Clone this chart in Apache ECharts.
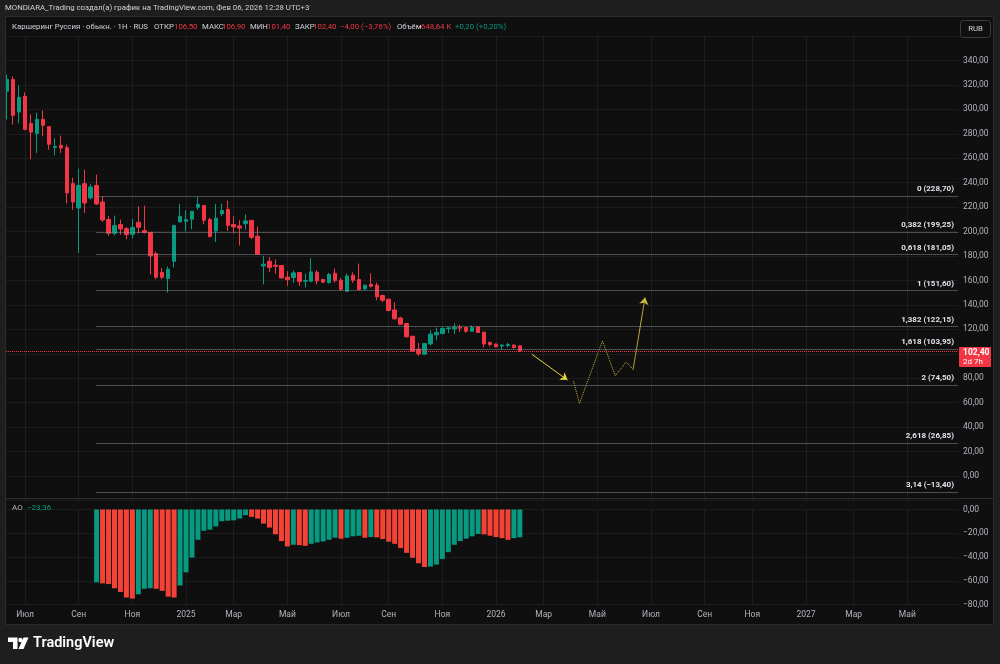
<!DOCTYPE html>
<html><head><meta charset="utf-8">
<script src="https://cdn.jsdelivr.net/npm/echarts@6/dist/echarts.min.js"></script>
<style>html,body{margin:0;padding:0;background:#1e1e1e;}#c{width:1000px;height:664px;}</style>
</head><body><div id="c"></div>
<script>
// ---------------- data ----------------
const candleStart = '2024-06-10'; // weekly candles, Monday dates
const opens  = [314.9,324.5,297.8,310.6,288.5,280.3,291.8,285.8,268.9,270.5,268.6,239.2,219.3,239.2,227.5,237.8,224.2,209.8,198.6,205.7,202.4,197.8,207.6,200.8,199.4,182.0,166.7,161.6,175.7,207.9,208.4,210.1,219.9,221.3,209.8,200.5,214.5,218.2,205.7,204.6,206.5,209.2,196.2,171.9,175.7,172.5,172.2,162.6,162.4,166.5,159.4,159.4,166.7,160.8,158.3,165.9,160.2,151.2,164.3,160.8,153.1,156.9,156.1,147.7,144.7,135.9,129.4,124.8,114.4,103.8,99.7,108.1,115.5,116.6,120.7,120.4,121.8,121.5,118.5,122.0,117.7,109.3,107.9,106.3,106.8,107.1,106.5];
const closes = [324.5,295.1,309.8,283.6,281.4,291.8,286.9,271.4,269.6,268.4,231.6,224.2,237.8,223.4,236.5,222.6,209.5,198.6,204.9,202.2,197.5,203.3,203.5,199.2,180.1,162.6,162.6,169.2,204.9,212.5,209.8,216.6,222.3,209.3,195.9,210.9,217.2,205.1,203.8,202.9,208.7,195.3,181.4,173.3,170.7,171.6,162.1,160.7,166.2,159.1,160.0,167.0,159.6,158.6,164.9,159.9,152.8,163.7,160.2,152.6,156.1,155.3,146.6,143.8,135.4,128.6,124.2,113.9,102.2,100.0,108.5,116.1,117.4,120.7,121.2,121.8,121.0,118.5,121.5,117.4,108.1,107.6,105.7,107.1,107.6,105.2,102.4];
const lows   = [291.8,287.4,288.5,282.8,259.3,264.3,277.9,267.0,262.4,264.3,222.9,217.7,182.5,215.2,226.2,221.8,207.9,196.4,196.7,197.5,193.7,194.3,198.6,198.4,164.9,161.0,161.0,150.1,170.6,207.9,200.2,201.9,217.7,206.0,195.3,191.5,212.8,200.5,198.6,188.6,201.6,193.9,181.4,156.9,167.0,165.4,161.6,155.5,158.0,155.5,154.2,158.6,156.9,157.8,157.5,158.3,151.5,150.6,158.0,152.0,152.0,154.2,143.8,142.2,134.9,128.1,124.0,113.4,101.6,98.3,99.2,106.8,111.2,116.1,116.9,116.3,117.9,117.1,117.9,117.1,105.2,106.0,105.2,103.2,105.4,104.4,101.4];
const highs  = [328.6,326.9,319.6,313.9,295.9,297.3,299.1,286.0,276.3,278.5,271.1,244.1,251.5,250.7,239.2,246.6,228.8,212.8,213.1,209.8,203.8,210.3,220.7,221.2,199.6,183.7,170.2,171.4,205.7,222.6,217.4,216.6,228.6,221.3,211.4,222.6,222.9,225.3,212.5,209.2,214.1,209.2,204.1,180.1,179.2,177.4,172.2,167.6,168.1,166.5,165.7,178.2,168.4,161.6,166.2,169.8,162.1,165.7,166.7,173.8,156.7,165.9,158.3,148.5,144.7,142.2,130.2,124.8,114.4,109.0,108.5,119.3,121.5,122.0,121.8,125.0,123.7,122.3,123.4,122.3,117.7,110.1,108.5,107.9,109.0,107.9,106.9];

const aoStart = '2024-09-23';
const aoValues = [-61.4,-62.2,-62.8,-66.3,-69.4,-74.1,-75.0,-71.4,-66.8,-66.3,-66.8,-68.5,-73.4,-74.1,-64.0,-52.9,-40.5,-25.5,-17.9,-17.0,-14.2,-9.9,-9.4,-9.1,-7.6,-4.8,-6.2,-7.6,-11.9,-15.2,-20.9,-26.6,-31.1,-29.7,-30.0,-30.6,-28.9,-27.7,-26.9,-25.5,-23.8,-24.6,-23.8,-22.6,-22.1,-23.8,-23.2,-23.5,-24.9,-27.1,-28.9,-32.5,-36.5,-40.7,-45.3,-48.4,-48.1,-46.4,-41.6,-35.9,-29.7,-26.6,-24.6,-22.6,-20.6,-20.9,-22.1,-23.2,-24.1,-25.5,-24.1,-23.36];

const fibStart = '2024-09-23';
const fibLevels = ['0','0,382','0,618','1','1,382','1,618','2','2,618','3,14'];
const fibPrices = [228.70,199.25,181.05,151.60,122.15,103.95,74.50,26.85,-13.40];

const lastPrice = 102.40;
const arrowPoints = [['2026-02-16',99.7],['2026-03-30',78.5]];
const pathPoints = [['2026-04-06',77.6],['2026-04-13',59.4],['2026-05-10',110.6],['2026-05-25',82.0],['2026-06-07',93.4],['2026-06-15',87.2],['2026-06-29',146.1]];

const xTickDates = ['2024-07-01','2024-09-02','2024-11-04','2025-01-06','2025-03-03','2025-05-05','2025-07-07','2025-09-01','2025-11-03','2026-01-05','2026-03-02','2026-05-04','2026-07-06','2026-09-07','2026-11-02','2027-01-04','2027-03-01','2027-05-03'];
const xTickLabels = ['Июл','Сен','Ноя','2025','Мар','Май','Июл','Сен','Ноя','2026','Мар','Май','Июл','Сен','Ноя','2027','Мар','Май'];

// ---------------- build ----------------
const DAY = 86400000;
const ts = s => Date.parse(s + 'T00:00:00Z');
const anchor = ts('2025-01-06');
const xMin = anchor - 211.4 * DAY;
const xMax = anchor + 906.5 * DAY;
const UP = '#089981', DOWN = '#f23645';
const AO_UP = '#089981', AO_DOWN = '#f44336';
const FONT = 'Roboto, sans-serif';
const fmt = v => v.toFixed(2).replace('.', ',').replace('-', '\u2212');

const candleData = opens.map((o, i) => [ts(candleStart) + i * 7 * DAY, o, closes[i], lows[i], highs[i]]);
const aoData = aoValues.map((v, k) => ({
  value: [ts(aoStart) + k * 7 * DAY, v],
  itemStyle: { color: (k === 0 || v >= aoValues[k - 1]) ? AO_UP : AO_DOWN }
}));
const tickTs = xTickDates.map(ts);

const fibMarks = fibPrices.map((p, i) => [
  { coord: [ts(fibStart), p],
    lineStyle: { color: '#8b8e96', type: 'dotted', width: 1 },
    label: { show: true, position: 'insideEndTop', distance: [4, 3], formatter: fibLevels[i] + ' (' + fmt(p) + ')',
             color: '#e0e3eb', fontSize: 8, fontWeight: 'bold', fontFamily: FONT } },
  { coord: [xMax, p] }
]);
const priceMark = [
  { coord: [xMin, lastPrice], lineStyle: { color: DOWN, type: 'dotted', width: 1 }, label: { show: false } },
  { coord: [xMax, lastPrice] }
];

const gridLine = { show: true, lineStyle: { color: 'rgba(255,255,255,0.055)', width: 1 } };
const xAxisBase = {
  type: 'value', min: xMin, max: xMax, scale: true,
  axisLine: { show: false },
  axisTick: { show: false, customValues: tickTs },
  splitLine: gridLine
};

const chart = echarts.init(document.getElementById('c'), null, { renderer: 'canvas' });
const option = {
  animation: false,
  backgroundColor: '#0f0f0f',
  grid: [
    { left: 6, right: 42, top: 36, height: 464.5 },
    { left: 6, right: 42, top: 509.5, height: 95 }
  ],
  xAxis: [
    Object.assign({}, xAxisBase, { gridIndex: 0, axisLabel: { show: false, customValues: tickTs } }),
    Object.assign({}, xAxisBase, { gridIndex: 1, axisLabel: {
      show: true, customValues: tickTs, margin: 6, color: '#b2b5be', fontSize: 8.5, fontFamily: FONT,
      formatter: v => { const i = tickTs.indexOf(v); return i >= 0 ? xTickLabels[i] : ''; }
    } })
  ],
  yAxis: [
    { gridIndex: 0, type: 'value', position: 'right', min: -20, max: 360, interval: 20,
      axisLine: { show: false }, axisTick: { show: false }, splitLine: gridLine,
      axisLabel: { margin: 5, color: '#b2b5be', fontSize: 8.5, fontFamily: FONT,
        formatter: v => (v < 0 || v > 340) ? '' : fmt(v) } },
    { gridIndex: 1, type: 'value', position: 'right', min: -80, max: 0, interval: 20,
      axisLine: { show: false }, axisTick: { show: false }, splitLine: gridLine,
      axisLabel: { margin: 5, color: '#b2b5be', fontSize: 8.5, fontFamily: FONT, formatter: v => fmt(v) } }
  ],
  series: [
    { type: 'candlestick', xAxisIndex: 0, yAxisIndex: 0, data: candleData, barWidth: 4,
      itemStyle: { color: UP, color0: DOWN, borderColor: UP, borderColor0: DOWN, borderWidth: 1 },
      markLine: { silent: true, symbol: ['none', 'none'], animation: false, data: fibMarks.concat([priceMark]) }
    },
    { type: 'line', xAxisIndex: 0, yAxisIndex: 0, symbol: 'none', silent: true,
      data: pathPoints.map(p => [ts(p[0]), p[1]]),
      lineStyle: { color: '#c9b93a', width: 1, type: 'dotted' },
      markLine: { silent: true, animation: false, symbolSize: 7,
        data: [
          [{ coord: [ts(arrowPoints[0][0]), arrowPoints[0][1]], symbol: 'none',
             lineStyle: { color: '#e3d23c', width: 1, type: 'solid' }, label: { show: false } },
           { coord: [ts(arrowPoints[1][0]), arrowPoints[1][1]], symbol: 'arrow' }],
          [{ coord: [ts(pathPoints[5][0]), pathPoints[5][1]], symbol: 'none',
             lineStyle: { color: '#c9b93a', width: 1, type: 'dotted' }, label: { show: false } },
           { coord: [ts(pathPoints[6][0]), pathPoints[6][1]], symbol: 'arrow' }]
        ] }
    },
    { type: 'bar', xAxisIndex: 1, yAxisIndex: 1, data: aoData, barWidth: 5 }
  ]
};
chart.setOption(option);

// ------------- overlays (frame, texts) -------------
const py = chart.convertToPixel({ yAxisIndex: 0 }, lastPrice);
const FS = 7.8;
const T = (x, y, text, fill, size, weight) => ({
  type: 'text', x: x, y: y, z: 100,
  style: { text: text, fill: fill, font: (weight || 'normal') + ' ' + size + 'px ' + FONT, verticalAlign: 'middle' }
});
const BG = '#1e1e1e';
const graphics = [
  { type: 'rect', z: 90, shape: { x: 0, y: 0, width: 1000, height: 16.5 }, style: { fill: BG } },
  { type: 'rect', z: 90, shape: { x: 0, y: 624.5, width: 1000, height: 40 }, style: { fill: BG } },
  { type: 'rect', z: 90, shape: { x: 0, y: 0, width: 5.5, height: 664 }, style: { fill: BG } },
  { type: 'rect', z: 90, shape: { x: 993.5, y: 0, width: 7, height: 664 }, style: { fill: BG } },
  { type: 'rect', z: 91, shape: { x: 5.5, y: 16.5, width: 988, height: 608 }, style: { fill: 'none', stroke: '#2b2b2b', lineWidth: 1 } },
  { type: 'line', z: 91, shape: { x1: 6, y1: 498.5, x2: 993, y2: 498.5 }, style: { stroke: '#2e2e2e', lineWidth: 1 } },
  T(5, 8, 'MONDIARA_Trading создал(а) график на TradingView.com, Фев 06, 2026 12:28 UTC+3', '#d1d4dc', FS),
  T(12, 27, 'Каршеринг Руссия · обыкн. · 1H · RUS', '#d1d4dc', FS),
  T(154, 27, 'ОТКР', '#d1d4dc', FS), T(174, 27, '106,50', DOWN, FS),
  T(202, 27, 'МАКС', '#d1d4dc', FS), T(222, 27, '106,90', DOWN, FS),
  T(250, 27, 'МИН', '#d1d4dc', FS), T(267, 27, '101,40', DOWN, FS),
  T(295, 27, 'ЗАКР', '#d1d4dc', FS), T(313, 27, '102,40', DOWN, FS),
  T(340, 27, '\u22124,00 (\u22123,76%)', DOWN, FS),
  T(397, 27, 'Объём', '#d1d4dc', FS), T(421, 27, '648,64 K', DOWN, FS),
  T(455, 27, '+0,20 (+0,20%)', UP, FS),
  { type: 'rect', z: 100, shape: { x: 960.5, y: 20.5, width: 30, height: 17, r: 3 }, style: { fill: '#0f0f0f', stroke: '#3d3d3d', lineWidth: 1 } },
  { type: 'text', x: 975.5, y: 29, z: 101, style: { text: 'RUB', fill: '#d1d4dc', font: FS + 'px ' + FONT, align: 'center', verticalAlign: 'middle' } },
  T(12, 508, 'AO', '#b2b5be', 8), T(27, 508, '\u221223,36', UP, 8),
  { type: 'rect', z: 100, shape: { x: 959, y: py - 4, width: 32, height: 20, r: 1 }, style: { fill: DOWN } },
  T(963, py + 1.5, '102,40', '#ffffff', 8.5, 'bold'),
  T(963, py + 11, '2d 7h', '#ffffff', 8),
  // TradingView logo
  { type: 'polygon', z: 100, shape: { points: [[8, 637.5], [17.5, 637.5], [17.5, 649], [13, 649], [13, 642], [8, 642]] }, style: { fill: '#ffffff' } },
  { type: 'circle', z: 100, shape: { cx: 20.5, cy: 640, r: 2.2 }, style: { fill: '#ffffff' } },
  { type: 'polygon', z: 100, shape: { points: [[23.5, 637.5], [28.5, 637.5], [23.5, 649], [18.5, 649]] }, style: { fill: '#ffffff' } },
  T(33, 643.5, 'TradingView', '#ffffff', 14.5, '600')
];
chart.setOption({ graphic: graphics });
</script>
</body></html>
